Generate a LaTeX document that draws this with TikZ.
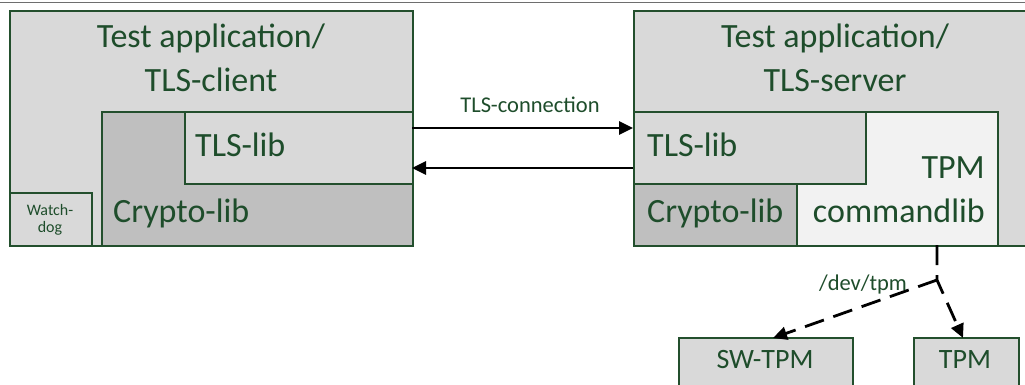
\documentclass[tikz,border=0pt]{standalone}
\usepackage{fontspec}
\setmainfont{Carlito}
\usetikzlibrary{arrows.meta}
\definecolor{boxline}{RGB}{35,79,45}
\definecolor{boxtext}{RGB}{30,77,43}
\definecolor{fillmid}{RGB}{217,217,217}
\definecolor{filldark}{RGB}{191,191,191}
\definecolor{filllight}{RGB}{242,242,242}
\definecolor{rulegray}{RGB}{110,110,110}
\tikzset{
  box/.style={draw=boxline, line width=2.2pt, inner sep=0pt, anchor=north west},
  lbl/.style={inner sep=0pt, text=boxtext},
  big/.style={lbl, font=\fontsize{34}{44}\selectfont},
  mid/.style={lbl, font=\fontsize{28}{32}\selectfont},
  small/.style={lbl, font=\fontsize{22.5}{26}\selectfont},
  tiny/.style={lbl, font=\fontsize{16}{17}\selectfont, align=center},
  link/.style={line width=2.8pt, -{Triangle[length=14pt,width=13pt]}},
  devlink/.style={line width=2.8pt, dash pattern=on 20pt off 10pt, -{Triangle[length=14pt,width=13pt]}}
}
\begin{document}
\begin{tikzpicture}[x=1pt,y=-1pt]
\useasboundingbox (0,0) rectangle (1025,385);
\clip (0,0) rectangle (1025,385);

% page rule along the top
\draw[rulegray, line width=1.8pt] (0,2.5) -- (1025,2.5);

% client side
\node[box, fill=fillmid, minimum width=403pt, minimum height=235pt] (client) at (9,10) {};
\node[box, fill=filldark, minimum width=311pt, minimum height=134pt] (ccrypto) at (101,111) {};
\node[box, fill=fillmid, minimum width=228pt, minimum height=72pt] (ctls) at (184,111) {};
\node[box, fill=fillmid, minimum width=82pt, minimum height=53pt] (wdog) at (9,192) {};

\node[big, anchor=base] (ctitle1) at (211,48) {Test application/};
\node[big, anchor=base] (ctitle2) at (211,92) {TLS-client};
\node[big, anchor=base west] (ctlstext) at (195,157) {TLS-lib};
\node[big, anchor=base west] (ccryptotext) at (113,222) {Crypto-lib};
\node[tiny, anchor=base] (wdtext1) at (50,215) {Watch-};
\node[tiny, anchor=base] (wdtext2) at (50,232) {dog};

% server side
\node[box, fill=fillmid, minimum width=403pt, minimum height=235pt] (server) at (633,10) {};
\node[box, fill=filllight, minimum width=201pt, minimum height=134pt] (tpmcmd) at (796,111) {};
\node[box, fill=fillmid, minimum width=232pt, minimum height=72pt] (stls) at (633,111) {};
\node[box, fill=filldark, minimum width=163pt, minimum height=62pt] (scrypto) at (633,183) {};

\node[big, anchor=base] (stitle1) at (835,48) {Test application/};
\node[big, anchor=base] (stitle2) at (835,92) {TLS-server};
\node[big, anchor=base west] (stlstext) at (647,157) {TLS-lib};
\node[big, anchor=base west] (scryptotext) at (647,222) {Crypto-lib};
\node[big, anchor=base east] (tpmtext1) at (985,178) {TPM};
\node[big, anchor=base east] (tpmtext2) at (985,222) {commandlib};

% TPM back ends
\node[box, fill=fillmid, minimum width=174pt, minimum height=60pt] (swtpm) at (678,337) {};
\node[box, fill=fillmid, minimum width=105pt, minimum height=60pt] (hwtpm) at (913,337) {};
\node[mid, anchor=base] (swtpmtext) at (765,368) {SW-TPM};
\node[mid, anchor=base] (hwtpmtext) at (965,368) {TPM};

% TLS connection between the two libraries
\coordinate (c1) at (412,128);
\coordinate (s1) at (633,128);
\coordinate (c2) at (412,168);
\coordinate (s2) at (633,168);
\draw[link] (c1) -- (s1);
\draw[link] (s2) -- (c2);
\node[small, anchor=base] (tlsconn) at (530,113) {TLS-connection};

% device path to the TPMs
\coordinate (devtop) at (937,245);
\coordinate (devsplit) at (937,280);
\coordinate (swin) at (773,338);
\coordinate (hwin) at (963,338);
\draw[devlink] (devtop) -- (devsplit) -- (hwin);
\draw[devlink] (devsplit) -- (swin);
\node[small, anchor=base] (devtpm) at (863,290) {/dev/tpm};
\end{tikzpicture}
\end{document}
